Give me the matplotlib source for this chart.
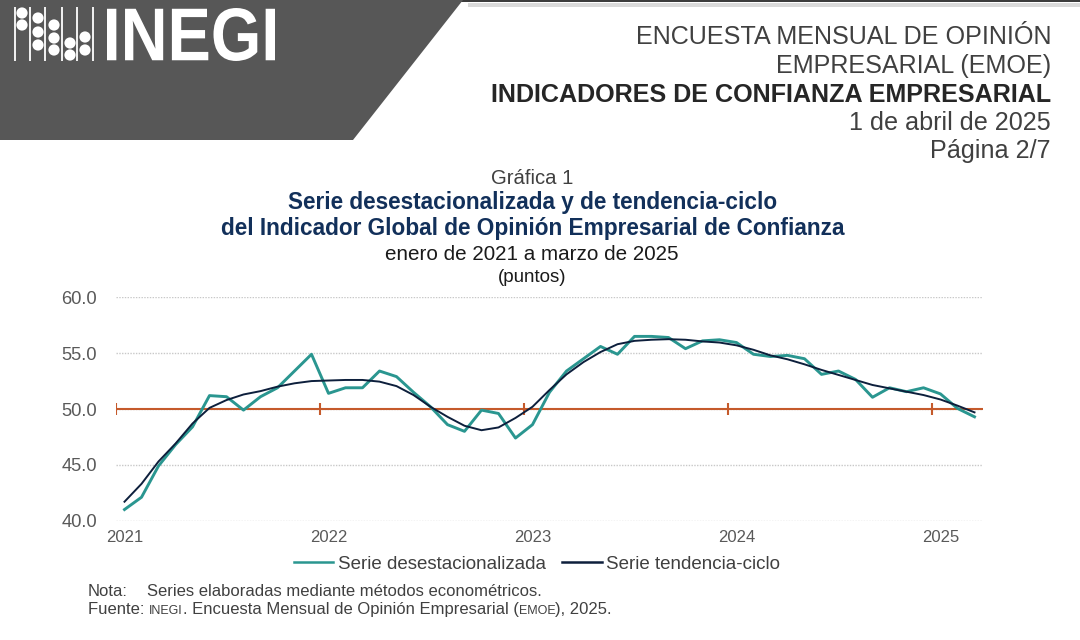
import numpy as np
import matplotlib
matplotlib.use("Agg")
import matplotlib.pyplot as plt
from matplotlib.textpath import TextPath
from matplotlib.patches import PathPatch, Polygon, Circle, Rectangle
from matplotlib.font_manager import FontProperties
from matplotlib.transforms import Affine2D

plt.rcParams['font.family'] = ['Liberation Sans', 'DejaVu Sans']

# Datos (puntos), enero 2021 - marzo 2025
desestacionalizada = [41.0, 42.1, 44.9, 46.8, 48.4, 51.2, 51.1, 49.9, 51.1, 51.9, 53.4, 54.9,
                      51.4, 51.9, 51.9, 53.4, 52.9, 51.5, 50.2, 48.6, 48.0, 49.9, 49.6, 47.4,
                      48.6, 51.5, 53.4, 54.5, 55.6, 54.9, 56.5, 56.5, 56.4, 55.4, 56.1, 56.2,
                      55.95, 54.9, 54.7, 54.8, 54.5, 53.1, 53.4, 52.65, 51.05, 51.9, 51.55, 51.9,
                      51.35, 50.05, 49.3]
tendencia = [41.7, 43.3, 45.3, 46.9, 48.7, 50.1, 50.8, 51.3, 51.6, 52.0, 52.3, 52.5,
             52.55, 52.6, 52.6, 52.45, 52.05, 51.25, 50.2, 49.3, 48.5, 48.1, 48.35, 49.2,
             50.2, 51.7, 53.1, 54.2, 55.1, 55.8, 56.1, 56.2, 56.25, 56.2, 56.05, 55.95,
             55.7, 55.3, 54.8, 54.45, 54.0, 53.5, 53.05, 52.6, 52.15, 51.85, 51.55, 51.25,
             50.85, 50.3, 49.7]
anios = ['2021', '2022', '2023', '2024', '2025']
umbral = 50.0

W, H = 1080, 640
fig = plt.figure(figsize=(W / 100, H / 100), dpi=100)


def fx(x):
    return x / W


def fy(y):
    return 1 - y / H


# Capa de fondo en pixeles para el encabezado
bg = fig.add_axes([0, 0, 1, 1])
bg.set_xlim(0, W)
bg.set_ylim(H, 0)
bg.axis('off')
bg.add_patch(Rectangle((468, 3), W - 468, 4, facecolor='#dadada', edgecolor='none'))
bg.add_patch(Rectangle((0, 0), W, 1.5, facecolor='#3c3c3c', edgecolor='none'))
bg.add_patch(Polygon([(0, 0), (463, 0), (353, 140), (0, 140)], closed=True,
                     facecolor='#575757', edgecolor='none'))

# logo: abaco
for lx in [15, 30, 45, 62, 77, 93]:
    bg.plot([lx, lx], [7, 61], color='white', lw=1.3, solid_capstyle='butt')
bolitas = [(22, 13), (22, 25), (38, 18), (38, 32), (38, 45), (54, 25), (54, 38), (54, 50),
           (70, 43), (70, 55), (85, 37), (85, 50)]
for cx, cy in bolitas:
    bg.add_patch(Circle((cx, cy), 5.6, facecolor='white', edgecolor='none'))

tp = TextPath((0, 0), "INEGI", size=1, prop=FontProperties(family='Liberation Sans', weight='bold'))
ext = tp.get_extents()
sx = 168 / ext.width
sy = 53 / ext.height
tr = Affine2D().translate(-ext.x0, -ext.y0).scale(sx, -sy).translate(107, 61)
bg.add_patch(PathPatch(tr.transform_path(tp), facecolor='white', edgecolor='none'))

# Encabezado derecho
fs_head = 18.1
fig.text(fx(1051), fy(37), 'ENCUESTA MENSUAL DE OPINIÓN', ha='right', va='center',
         fontsize=fs_head, color='#404040')
fig.text(fx(1051), fy(66), 'EMPRESARIAL (EMOE)', ha='right', va='center',
         fontsize=fs_head, color='#404040')
fig.text(fx(1051), fy(95), 'INDICADORES DE CONFIANZA EMPRESARIAL', ha='right', va='center',
         fontsize=fs_head, color='#262626', fontweight='bold')
fig.text(fx(1051), fy(123), '1 de abril de 2025', ha='right', va='center',
         fontsize=fs_head, color='#404040')
fig.text(fx(1051), fy(151), 'Página 2/7', ha='right', va='center',
         fontsize=fs_head, color='#404040')

# Titulos de la grafica
fig.text(fx(532), fy(178), 'Gráfica 1', ha='center', va='center', fontsize=14.6, color='#404040')
fig.text(fx(533), fy(203), 'Serie desestacionalizada y de tendencia-ciclo', ha='center', va='center',
         fontsize=16.3, color='#12305a', fontweight='bold')
fig.text(fx(533), fy(229), 'del Indicador Global de Opinión Empresarial de Confianza', ha='center',
         va='center', fontsize=16.3, color='#12305a', fontweight='bold')
fig.text(fx(532), fy(254), 'enero de 2021 a marzo de 2025', ha='center', va='center',
         fontsize=14.9, color='#1a1a1a')
fig.text(fx(532), fy(277), '(puntos)', ha='center', va='center', fontsize=13.5, color='#1a1a1a')

# Grafica
x_left, x_right = 116, 983
y_top, y_bot = 297.3, 520.7
ax = fig.add_axes([fx(x_left), fy(y_bot), (x_right - x_left) / W, (y_bot - y_top) / H])
ax.patch.set_alpha(0)
n = len(desestacionalizada)
x = np.arange(n)
ax.set_xlim(-0.5, n - 0.5)
ax.set_ylim(40, 60)
for s in ax.spines.values():
    s.set_visible(False)

ax.set_yticks(np.arange(40, 60.1, 5))
ax.set_yticklabels([f'{v:.1f}' for v in np.arange(40, 60.1, 5)])
ax.yaxis.grid(True, color='#c8c8c8', linestyle=(0, (1, 1)), linewidth=1)
ax.set_axisbelow(True)

ax.set_xticks(np.arange(0, n, 12))
ax.set_xticklabels(anios)
ax.tick_params(axis='both', length=0, labelcolor='#595959')
ax.tick_params(axis='y', pad=13.5, labelsize=13.2)
ax.tick_params(axis='x', pad=7, labelsize=12)

# linea de 50 con marcas
ax.axhline(umbral, color='#c55a2b', lw=1.5, zorder=2)
marcas = [-0.5] + [i - 0.5 for i in range(12, n, 12)]
ax.plot(marcas, [umbral] * len(marcas), linestyle='none', marker='|', ms=9, mew=1.5,
        color='#c55a2b', zorder=2)

ax.plot(x, desestacionalizada, color='#2a9690', lw=2.1, zorder=3, label='Serie desestacionalizada')
ax.plot(x, tendencia, color='#0d1f3c', lw=1.4, zorder=4, label='Serie tendencia-ciclo')

leg = ax.legend(loc='center', bbox_to_anchor=(fx(537), fy(564)), bbox_transform=fig.transFigure,
                ncol=2, frameon=False, fontsize=13.5, handlelength=2.1, handletextpad=0.25,
                columnspacing=0.9, labelcolor='#404040')
for h in leg.get_lines():
    h.set_linewidth(1.8)

# Notas
nota_col = '#404040'
fs_nota = 12
fig.text(fx(88), fy(592), 'Nota:', ha='left', va='center', fontsize=fs_nota, color=nota_col)
fig.text(fx(147), fy(592), 'Series elaboradas mediante métodos econométricos.', ha='left',
         va='center', fontsize=fs_nota, color=nota_col)

renderer = fig.canvas.get_renderer()
partes = [('Fuente: ', fs_nota), ('INEGI', 9), ('. Encuesta Mensual de Opinión Empresarial (', fs_nota),
          ('EMOE', 9), ('), 2025.', fs_nota)]
xpos = fx(88)
for txt, fs in partes:
    t = fig.text(xpos, fy(614), txt, ha='left', va='baseline', fontsize=fs, color=nota_col)
    bb = t.get_window_extent(renderer)
    xpos = bb.x1 / W

fig.savefig('out.png', dpi=100)
